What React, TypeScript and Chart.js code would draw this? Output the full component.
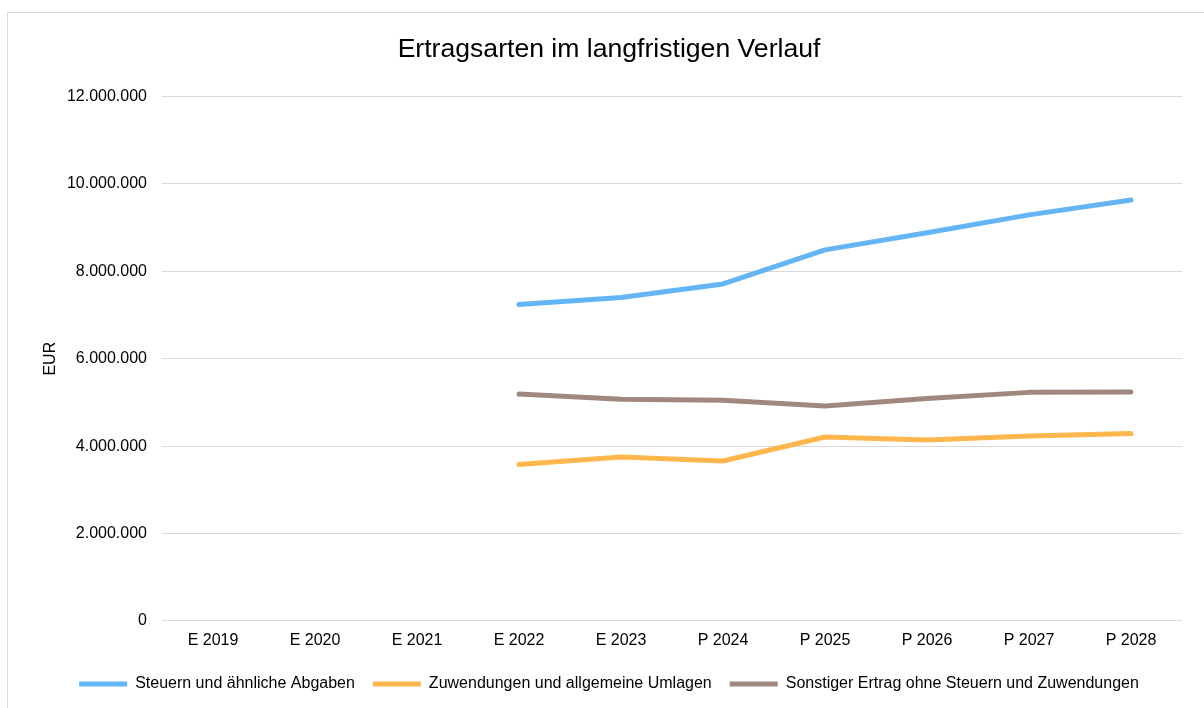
import React, { useEffect, useRef } from "react";
import { Chart, registerables } from "chart.js";

Chart.register(...registerables);

const categories = ["E 2019", "E 2020", "E 2021", "E 2022", "E 2023", "P 2024", "P 2025", "P 2026", "P 2027", "P 2028"];
const steuern = [null, null, null, 7240000, 7400000, 7710000, 8490000, 8880000, 9290000, 9630000];
const zuwendungen = [null, null, null, 3580000, 3750000, 3660000, 4210000, 4140000, 4230000, 4290000];
const sonstiger = [null, null, null, 5190000, 5070000, 5050000, 4920000, 5090000, 5230000, 5240000];
const seriesNames = [
  "Steuern und ähnliche Abgaben",
  "Zuwendungen und allgemeine Umlagen",
  "Sonstiger Ertrag ohne Steuern und Zuwendungen",
];
const seriesColors = ["#64B5F6", "#FFB74D", "#A1887F"];
const titleText = "Ertragsarten im langfristigen Verlauf";
const yAxisTitle = "EUR";
const yMin = 0;
const yMax = 12000000;
const yStep = 2000000;

const FONT = "'Liberation Sans', Arial, sans-serif";
const FS = 16;

function formatDe(v: number): string {
  return String(Math.round(v)).replace(/\B(?=(\d{3})+(?!\d))/g, ".");
}

export default function App() {
  const ref = useRef<HTMLCanvasElement | null>(null);
  useEffect(() => {
    if (!ref.current) return;
    const data = [steuern, zuwendungen, sonstiger];
    const chart = new Chart(ref.current, {
      type: "line",
      data: {
        labels: categories,
        datasets: data.map((d, i) => ({
          label: seriesNames[i],
          data: d,
          borderColor: seriesColors[i],
          backgroundColor: seriesColors[i],
          borderWidth: 5,
          borderCapStyle: "round" as const,
          borderJoinStyle: "round" as const,
          pointRadius: 0,
          pointHoverRadius: 0,
          tension: 0,
          fill: false,
        })),
      },
      options: {
        animation: false,
        responsive: false,
        maintainAspectRatio: false,
        layout: { padding: { left: 36, right: 22, top: 0, bottom: 6 } },
        plugins: {
          title: {
            display: true,
            text: titleText,
            color: "#000",
            font: { family: FONT, size: 26.6, weight: "normal" },
            padding: { top: 34, bottom: 30.5 },
          },
          legend: {
            display: true,
            position: "bottom",
            labels: {
              usePointStyle: true,
              pointStyle: "line",
              pointStyleWidth: 48,
              boxHeight: FS,
              padding: 18,
              color: "#000",
              font: { family: FONT, size: FS },
            },
          },
          tooltip: { enabled: false },
        },
        scales: {
          x: {
            offset: true,
            grid: { display: false, drawTicks: false, offset: true },
            border: { display: false },
            ticks: { color: "#000", font: { family: FONT, size: FS }, padding: 9.5, maxRotation: 0, autoSkip: false },
            afterFit: (scale: any) => {
              scale.height = 37;
            },
          },
          y: {
            min: yMin,
            max: yMax,
            grid: { color: "#d9d9d9", lineWidth: 1, drawTicks: false },
            border: { display: false },
            ticks: {
              stepSize: yStep,
              color: "#000",
              font: { family: FONT, size: FS },
              padding: 15,
              callback: (v: any) => formatDe(Number(v)),
            },
            title: {
              display: true,
              text: yAxisTitle,
              color: "#000",
              font: { family: FONT, size: FS },
              padding: { top: 5, bottom: 0 },
            },
            afterFit: (scale: any) => {
              scale.width = 126;
            },
          },
        },
      },
    });
    return () => chart.destroy();
  }, []);

  return (
    <div style={{ position: "fixed", left: 0, top: 0, width: 1204, height: 708, overflow: "hidden", background: "#fff" }}>
      <div
        style={{
          position: "absolute",
          left: 7,
          top: 12,
          width: 1300,
          height: 800,
          border: "1px solid #d9d9d9",
          boxSizing: "border-box",
        }}
      />
      <canvas ref={ref} width={1204} height={708} style={{ position: "absolute", left: 0, top: 0, width: 1204, height: 708 }} />
    </div>
  );
}
